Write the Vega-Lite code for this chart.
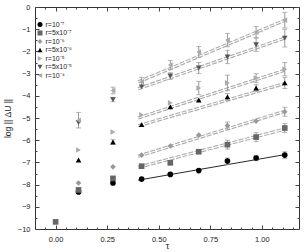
{
  "$schema": "https://vega.github.io/schema/vega-lite/v6.json",
  "autosize": "none",
  "width": 264,
  "height": 222,
  "padding": {"left": 35, "top": 7, "right": 5, "bottom": 23},
  "background": "white",
  "config": {
    "font": "Liberation Sans",
    "view": {"stroke": "#333", "strokeWidth": 1},
    "axis": {"grid": false, "domain": false, "labelFont": "Liberation Sans", "labelFontSize": 7.5, "labelColor": "#222", "tickColor": "#444", "titleFont": "Liberation Sans", "titleFontWeight": "normal", "titleColor": "#222"}
  },
  "datasets": {
    "pts": [
      {"s": "r=5x10⁻⁷", "tau": 0.0, "v": -9.68},
      {"s": "r=10⁻⁷", "tau": 0.111, "v": -8.33},
      {"s": "r=10⁻⁷", "tau": 0.278, "v": -7.93},
      {"s": "r=10⁻⁷", "tau": 0.417, "v": -7.75},
      {"s": "r=10⁻⁷", "tau": 0.556, "v": -7.54},
      {"s": "r=10⁻⁷", "tau": 0.694, "v": -7.37},
      {"s": "r=10⁻⁷", "tau": 0.833, "v": -6.94, "lo": -7.1, "hi": -6.8},
      {"s": "r=10⁻⁷", "tau": 0.972, "v": -6.8, "lo": -6.92, "hi": -6.68},
      {"s": "r=10⁻⁷", "tau": 1.111, "v": -6.67, "lo": -6.82, "hi": -6.52},
      {"s": "r=5x10⁻⁷", "tau": 0.111, "v": -8.24},
      {"s": "r=5x10⁻⁷", "tau": 0.278, "v": -7.72},
      {"s": "r=5x10⁻⁷", "tau": 0.417, "v": -7.17},
      {"s": "r=5x10⁻⁷", "tau": 0.556, "v": -7.02},
      {"s": "r=5x10⁻⁷", "tau": 0.694, "v": -6.52},
      {"s": "r=5x10⁻⁷", "tau": 0.833, "v": -6.2, "lo": -6.4, "hi": -6.0},
      {"s": "r=5x10⁻⁷", "tau": 0.972, "v": -5.86, "lo": -6.06, "hi": -5.66},
      {"s": "r=5x10⁻⁷", "tau": 1.111, "v": -5.45, "lo": -5.65, "hi": -5.25},
      {"s": "r=10⁻⁶", "tau": 0.111, "v": -7.93},
      {"s": "r=10⁻⁶", "tau": 0.278, "v": -7.2},
      {"s": "r=10⁻⁶", "tau": 0.417, "v": -6.67},
      {"s": "r=10⁻⁶", "tau": 0.556, "v": -6.26},
      {"s": "r=10⁻⁶", "tau": 0.694, "v": -5.77},
      {"s": "r=10⁻⁶", "tau": 0.833, "v": -5.34, "lo": -5.5, "hi": -5.18},
      {"s": "r=10⁻⁶", "tau": 0.972, "v": -5.14},
      {"s": "r=10⁻⁶", "tau": 1.111, "v": -4.72, "lo": -4.92, "hi": -4.52},
      {"s": "r=5x10⁻⁶", "tau": 0.111, "v": -6.89},
      {"s": "r=5x10⁻⁶", "tau": 0.278, "v": -6.08, "lo": -6.18, "hi": -5.98},
      {"s": "r=5x10⁻⁶", "tau": 0.417, "v": -5.3},
      {"s": "r=5x10⁻⁶", "tau": 0.556, "v": -4.5},
      {"s": "r=5x10⁻⁶", "tau": 0.694, "v": -4.19},
      {"s": "r=5x10⁻⁶", "tau": 0.833, "v": -4.05, "lo": -4.2, "hi": -3.9},
      {"s": "r=5x10⁻⁶", "tau": 0.972, "v": -3.65, "lo": -3.8, "hi": -3.5},
      {"s": "r=5x10⁻⁶", "tau": 1.111, "v": -3.42, "lo": -3.67, "hi": -3.17},
      {"s": "r=10⁻⁵", "tau": 0.111, "v": -6.44},
      {"s": "r=10⁻⁵", "tau": 0.278, "v": -5.63},
      {"s": "r=10⁻⁵", "tau": 0.417, "v": -4.86},
      {"s": "r=10⁻⁵", "tau": 0.556, "v": -4.32},
      {"s": "r=10⁻⁵", "tau": 0.694, "v": -3.65, "lo": -3.95, "hi": -3.35},
      {"s": "r=10⁻⁵", "tau": 0.833, "v": -3.42, "lo": -3.77, "hi": -3.07},
      {"s": "r=10⁻⁵", "tau": 0.972, "v": -3.2, "lo": -3.4, "hi": -3.0},
      {"s": "r=10⁻⁵", "tau": 1.111, "v": -2.8, "lo": -3.1, "hi": -2.5},
      {"s": "r=5x10⁻⁵", "tau": 0.111, "v": -5.2},
      {"s": "r=5x10⁻⁵", "tau": 0.278, "v": -4.17, "lo": -4.27, "hi": -4.07},
      {"s": "r=5x10⁻⁵", "tau": 0.417, "v": -3.6},
      {"s": "r=5x10⁻⁵", "tau": 0.556, "v": -3.11, "lo": -3.26, "hi": -2.96},
      {"s": "r=5x10⁻⁵", "tau": 0.694, "v": -2.75, "lo": -3.0, "hi": -2.5},
      {"s": "r=5x10⁻⁵", "tau": 0.833, "v": -2.25, "lo": -2.55, "hi": -1.95},
      {"s": "r=5x10⁻⁵", "tau": 0.972, "v": -1.7, "lo": -2.0, "hi": -1.4},
      {"s": "r=5x10⁻⁵", "tau": 1.111, "v": -1.4, "lo": -1.8, "hi": -1.0},
      {"s": "r=10⁻⁴", "tau": 0.111, "v": -5.1, "lo": -5.45, "hi": -4.75},
      {"s": "r=10⁻⁴", "tau": 0.278, "v": -3.76, "lo": -3.91, "hi": -3.61},
      {"s": "r=10⁻⁴", "tau": 0.417, "v": -3.37, "lo": -3.57, "hi": -3.17},
      {"s": "r=10⁻⁴", "tau": 0.556, "v": -2.61, "lo": -2.81, "hi": -2.41},
      {"s": "r=10⁻⁴", "tau": 0.694, "v": -2.03, "lo": -2.28, "hi": -1.78},
      {"s": "r=10⁻⁴", "tau": 0.833, "v": -1.49, "lo": -1.79, "hi": -1.19},
      {"s": "r=10⁻⁴", "tau": 0.972, "v": -1.13, "lo": -1.38, "hi": -0.88},
      {"s": "r=10⁻⁴", "tau": 1.111, "v": -0.59, "lo": -0.94, "hi": -0.24}
    ],
    "fits": [
      {"s": "r=10⁻⁷", "tau": 0.4, "v": -7.8},
      {"s": "r=10⁻⁷", "tau": 1.111, "v": -6.65},
      {"s": "r=5x10⁻⁷", "tau": 0.4, "v": -7.22},
      {"s": "r=5x10⁻⁷", "tau": 1.111, "v": -5.5},
      {"s": "r=10⁻⁶", "tau": 0.4, "v": -6.72},
      {"s": "r=10⁻⁶", "tau": 1.111, "v": -4.7},
      {"s": "r=5x10⁻⁶", "tau": 0.4, "v": -5.35},
      {"s": "r=5x10⁻⁶", "tau": 1.111, "v": -3.45},
      {"s": "r=10⁻⁵", "tau": 0.4, "v": -5.0},
      {"s": "r=10⁻⁵", "tau": 1.111, "v": -2.85},
      {"s": "r=5x10⁻⁵", "tau": 0.4, "v": -3.68},
      {"s": "r=5x10⁻⁵", "tau": 1.111, "v": -1.4},
      {"s": "r=10⁻⁴", "tau": 0.4, "v": -3.38},
      {"s": "r=10⁻⁴", "tau": 1.111, "v": -0.6}
    ]
  },
  "resolve": {"axis": {"x": "independent", "y": "independent"}},
  "layer": [
    {
      "data": {"name": "fits"},
      "transform": [{"filter": "datum.s !== 'r=10⁻⁷'"}],
      "mark": {"type": "line", "color": "#a8a8a8", "strokeWidth": 3.2, "strokeDash": [5, 1.5]},
      "encoding": {
        "x": {"field": "tau", "type": "quantitative", "scale": {"domain": [-0.1, 1.18], "nice": false, "zero": false},
              "axis": {"orient": "bottom", "values": [0, 0.25, 0.5, 0.75, 1.0], "format": ".2f", "tickSize": -4, "labelPadding": 10, "title": "τ", "titleFontSize": 9, "titlePadding": -1}},
        "y": {"field": "v", "type": "quantitative", "scale": {"domain": [-10, 0], "nice": false, "zero": false},
              "axis": {"orient": "left", "values": [-10, -9, -8, -7, -6, -5, -4, -3, -2, -1, 0], "tickSize": -4, "labelPadding": 9, "title": "log || ΔU ||", "titleFontSize": 8.5, "titlePadding": 5}},
        "detail": {"field": "s"}
      }
    },
    {
      "data": {"name": "fits"},
      "transform": [{"filter": "datum.s !== 'r=10⁻⁷'"}],
      "mark": {"type": "line", "color": "white", "strokeWidth": 1.1},
      "encoding": {
        "x": {"field": "tau", "type": "quantitative", "scale": {"domain": [-0.1, 1.18], "nice": false, "zero": false},
              "axis": {"orient": "top", "values": [0, 0.25, 0.5, 0.75, 1.0], "labels": false, "tickSize": -4, "title": null}},
        "y": {"field": "v", "type": "quantitative", "scale": {"domain": [-10, 0], "nice": false, "zero": false},
              "axis": {"orient": "right", "values": [-10, -9, -8, -7, -6, -5, -4, -3, -2, -1, 0], "labels": false, "tickSize": -4, "title": null}},
        "detail": {"field": "s"}
      }
    },
    {
      "data": {"name": "fits"},
      "transform": [{"filter": "datum.s === 'r=10⁻⁷'"}],
      "mark": {"type": "line", "color": "#111", "strokeWidth": 0.9},
      "encoding": {
        "x": {"field": "tau", "type": "quantitative", "scale": {"domain": [-0.1, 1.18], "nice": false, "zero": false},
              "axis": {"orient": "bottom", "values": [-0.05, 0.05, 0.1, 0.15, 0.2, 0.3, 0.35, 0.4, 0.45, 0.55, 0.6, 0.65, 0.7, 0.8, 0.85, 0.9, 0.95, 1.05, 1.1, 1.15], "labels": false, "tickSize": -2, "title": null}},
        "y": {"field": "v", "type": "quantitative", "scale": {"domain": [-10, 0], "nice": false, "zero": false},
              "axis": {"orient": "left", "values": [-9.5, -8.5, -7.5, -6.5, -5.5, -4.5, -3.5, -2.5, -1.5, -0.5], "labels": false, "tickSize": -2, "title": null}}
      }
    },
    {
      "data": {"name": "pts"},
      "transform": [{"filter": "isValid(datum.lo)"}],
      "mark": {"type": "errorbar", "ticks": {"size": 5, "color": "#999"}, "rule": {"color": "#999"}},
      "encoding": {
        "x": {"field": "tau", "type": "quantitative", "scale": {"domain": [-0.1, 1.18], "nice": false, "zero": false},
              "axis": {"orient": "top", "values": [-0.05, 0.05, 0.1, 0.15, 0.2, 0.3, 0.35, 0.4, 0.45, 0.55, 0.6, 0.65, 0.7, 0.8, 0.85, 0.9, 0.95, 1.05, 1.1, 1.15], "labels": false, "tickSize": -2, "title": null}},
        "y": {"field": "lo", "type": "quantitative", "scale": {"domain": [-10, 0], "nice": false, "zero": false},
              "axis": {"orient": "right", "values": [-9.5, -8.5, -7.5, -6.5, -5.5, -4.5, -3.5, -2.5, -1.5, -0.5], "labels": false, "tickSize": -2, "title": null}},
        "y2": {"field": "hi"}
      }
    },
    {
      "data": {"name": "pts"},
      "mark": {"type": "point", "filled": true, "opacity": 1, "size": 32},
      "encoding": {
        "x": {"field": "tau", "type": "quantitative", "scale": {"domain": [-0.1, 1.18], "nice": false, "zero": false}, "axis": null},
        "y": {"field": "v", "type": "quantitative", "scale": {"domain": [-10, 0], "nice": false, "zero": false}, "axis": null},
        "color": {"field": "s", "type": "nominal",
                  "scale": {"domain": ["r=10⁻⁷", "r=5x10⁻⁷", "r=10⁻⁶", "r=5x10⁻⁶", "r=10⁻⁵", "r=5x10⁻⁵", "r=10⁻⁴"],
                            "range": ["#000000", "#666666", "#999999", "#000000", "#aaaaaa", "#555555", "#aaaaaa"]},
                  "legend": {"orient": "none", "legendX": 1.5, "legendY": 14, "title": null, "padding": 0, "labelFontSize": 7, "labelColor": "#222", "symbolSize": 25, "rowPadding": 0.5, "labelOffset": 2, "symbolStrokeWidth": 0, "symbolOpacity": 1}},
        "shape": {"field": "s", "type": "nominal",
                  "scale": {"domain": ["r=10⁻⁷", "r=5x10⁻⁷", "r=10⁻⁶", "r=5x10⁻⁶", "r=10⁻⁵", "r=5x10⁻⁵", "r=10⁻⁴"],
                            "range": ["circle", "square", "diamond", "triangle-up", "triangle-right", "triangle-down", "triangle-left"]}}
      }
    }
  ]
}
